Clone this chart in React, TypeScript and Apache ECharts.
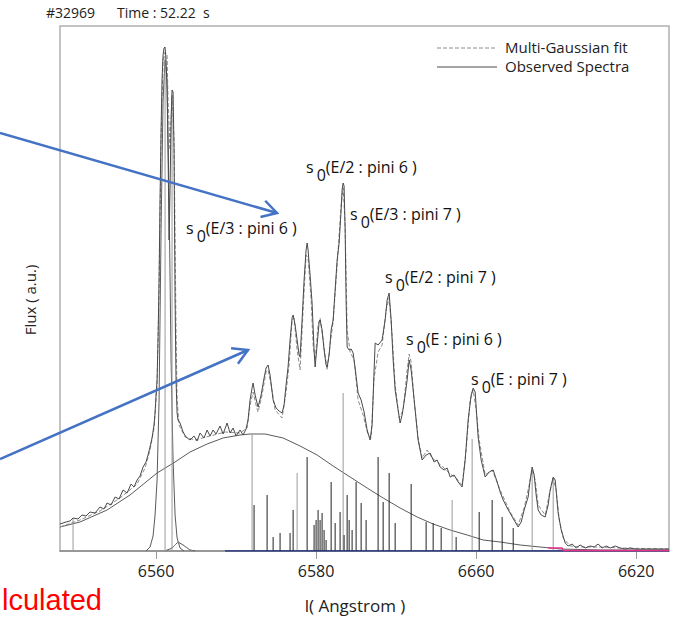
import React, { useEffect, useRef } from "react";
import * as echarts from "echarts";

// ---------- data ----------
const tickValues = [6560, 6580, 6600, 6620];
const tickLabels = ["6560", "6580", "6660", "6620"];

const titleShot = "#32969";
const titleTime = "Time : 52.22  s";
const xAxisName = "l( Angstrom )";
const yAxisName = "Flux ( a.u.)";
const legendFit = "Multi-Gaussian fit";
const legendObs = "Observed Spectra";
const redText = "lculated";

const peakLabelTexts = [
  "(E/2 : pini 6 )",
  "(E/3 : pini 7 )",
  "(E/3 : pini 6 )",
  "(E/2 : pini 7 )",
  "(E : pini 6 )",
  "(E : pini 7 )",
];

const observed: [number, number][] = [
  [6548.0, 0.27], [6548.75, 0.29], [6549.25, 0.3], [6549.63, 0.33], [6550.25, 0.32], [6550.75, 0.36],
  [6551.25, 0.35], [6551.75, 0.39], [6552.38, 0.38], [6553.0, 0.44], [6553.5, 0.42], [6553.88, 0.48],
  [6554.38, 0.46], [6554.88, 0.54], [6555.38, 0.52], [6555.88, 0.61], [6556.38, 0.58], [6556.88, 0.67],
  [6557.25, 0.64], [6557.63, 0.71], [6558.0, 0.75], [6558.38, 0.84], [6558.75, 0.89], [6559.0, 0.96],
  [6559.25, 1.04], [6559.5, 1.13], [6559.75, 1.26], [6559.88, 1.38], [6560.0, 1.56], [6560.13, 1.71],
  [6560.25, 2.11], [6560.38, 2.71], [6560.5, 3.51], [6560.63, 4.21], [6560.75, 4.71], [6560.88, 4.96],
  [6561.0, 5.03], [6561.13, 5.04], [6561.25, 4.91], [6561.38, 4.61], [6561.5, 4.01], [6561.63, 3.11],
  [6561.75, 3.61], [6561.88, 4.31], [6562.0, 4.61], [6562.13, 4.59], [6562.25, 4.01], [6562.38, 2.51],
  [6562.5, 1.71], [6562.63, 1.38], [6562.75, 1.31], [6563.0, 1.28], [6563.38, 1.19], [6563.75, 1.14],
  [6564.25, 1.11], [6564.75, 1.15], [6565.13, 1.1], [6565.5, 1.18], [6566.0, 1.13], [6566.38, 1.21],
  [6566.75, 1.15], [6567.13, 1.21], [6567.5, 1.17], [6568.0, 1.25], [6568.38, 1.17], [6568.88, 1.28],
  [6569.25, 1.18], [6569.63, 1.23], [6570.0, 1.15], [6570.5, 1.21], [6570.88, 1.16], [6571.25, 1.22],
  [6571.5, 1.31], [6571.75, 1.51], [6572.0, 1.63], [6572.13, 1.68], [6572.38, 1.56], [6572.75, 1.44],
  [6573.13, 1.56], [6573.5, 1.73], [6573.75, 1.83], [6574.0, 1.86], [6574.25, 1.76], [6574.63, 1.51],
  [6575.0, 1.43], [6575.38, 1.4], [6575.75, 1.38], [6576.0, 1.46], [6576.25, 1.66], [6576.5, 1.84],
  [6576.75, 2.11], [6577.0, 2.33], [6577.13, 2.36], [6577.38, 2.26], [6577.63, 2.11], [6577.88, 1.96],
  [6578.0, 1.94], [6578.25, 2.31], [6578.5, 2.71], [6578.75, 3.01], [6578.88, 3.08], [6579.0, 3.01],
  [6579.25, 2.76], [6579.5, 2.48], [6579.75, 2.01], [6579.88, 1.84], [6580.13, 2.06], [6580.38, 2.29],
  [6580.5, 2.31], [6580.75, 2.21], [6581.0, 2.01], [6581.25, 1.86], [6581.38, 1.84], [6581.63, 1.96],
  [6581.88, 2.21], [6582.13, 2.31], [6582.38, 2.61], [6582.63, 2.91], [6582.88, 3.08], [6583.13, 3.41],
  [6583.25, 3.61], [6583.38, 3.68], [6583.5, 3.65], [6583.63, 3.21], [6583.75, 2.51], [6583.88, 2.04],
  [6584.13, 2.01], [6584.38, 2.02], [6584.63, 1.98], [6584.88, 1.83], [6585.25, 1.58], [6585.63, 1.51],
  [6586.0, 1.39], [6586.38, 1.21], [6586.75, 1.11], [6587.0, 1.26], [6587.25, 1.81], [6587.38, 2.08],
  [6587.75, 2.06], [6588.25, 2.11], [6588.63, 2.31], [6588.88, 2.51], [6589.13, 2.58], [6589.38, 2.31],
  [6589.63, 1.91], [6589.88, 1.61], [6590.25, 1.41], [6590.5, 1.28], [6590.75, 1.36], [6591.13, 1.56],
  [6591.38, 1.71], [6591.63, 1.91], [6591.88, 1.81], [6592.13, 1.61], [6592.38, 1.41], [6592.75, 1.11],
  [6593.25, 0.91], [6593.75, 0.96], [6594.25, 0.98], [6594.75, 0.89], [6595.13, 0.91], [6595.5, 0.84],
  [6596.0, 0.81], [6596.38, 0.83], [6596.75, 0.74], [6597.25, 0.76], [6597.75, 0.69], [6598.25, 0.64],
  [6598.63, 0.91], [6599.0, 1.31], [6599.38, 1.56], [6599.63, 1.63], [6599.88, 1.59], [6600.25, 1.14],
  [6600.63, 0.91], [6601.13, 0.74], [6601.63, 0.79], [6602.13, 0.81], [6602.63, 0.69], [6603.0, 0.59],
  [6603.38, 0.51], [6603.88, 0.43], [6604.38, 0.36], [6604.88, 0.29], [6605.25, 0.24], [6605.63, 0.29],
  [6606.0, 0.41], [6606.5, 0.54], [6606.75, 0.71], [6607.0, 0.84], [6607.25, 0.76], [6607.5, 0.56],
  [6607.75, 0.41], [6608.13, 0.36], [6608.63, 0.34], [6609.0, 0.46], [6609.25, 0.61], [6609.63, 0.74],
  [6609.88, 0.71], [6610.25, 0.38], [6610.63, 0.21], [6611.13, 0.08], [6611.5, 0.05], [6612.0, 0.07],
  [6612.5, 0.03], [6613.0, 0.06], [6613.63, 0.03], [6614.25, 0.05], [6614.75, 0.04], [6615.25, 0.07],
  [6615.75, 0.03], [6616.25, 0.05], [6616.75, 0.03], [6617.38, 0.05], [6618.0, 0.03], [6618.63, 0.02],
  [6619.25, 0.03], [6619.88, 0.02], [6620.5, 0.02], [6621.75, 0.02], [6623.0, 0.02], [6624.1, 0.02],
];

const fit: [number, number][] = [
  [6548.0, 0.24], [6550.5, 0.31], [6553.0, 0.4], [6555.5, 0.53], [6557.63, 0.67], [6558.63, 0.83],
  [6559.25, 1.01], [6559.75, 1.23], [6560.13, 1.66], [6560.38, 2.61], [6560.63, 4.11], [6560.88, 4.91],
  [6561.13, 4.99], [6561.38, 4.96], [6561.5, 4.51], [6561.75, 4.01], [6562.0, 4.56], [6562.25, 4.11],
  [6562.5, 2.21], [6562.63, 1.51], [6562.88, 1.26], [6563.63, 1.14], [6564.88, 1.11], [6566.75, 1.15],
  [6568.63, 1.19], [6570.5, 1.18], [6571.38, 1.23], [6571.75, 1.46], [6572.13, 1.59], [6572.5, 1.46],
  [6572.75, 1.39], [6573.25, 1.56], [6573.75, 1.79], [6574.0, 1.81], [6574.38, 1.66], [6574.88, 1.41],
  [6575.75, 1.33], [6576.25, 1.59], [6576.63, 1.86], [6577.0, 2.31], [6577.25, 2.33], [6577.63, 2.01],
  [6578.0, 1.81], [6578.38, 2.41], [6578.75, 2.96], [6579.0, 2.93], [6579.38, 2.51], [6579.63, 2.06],
  [6579.88, 1.91], [6580.25, 2.26], [6580.5, 2.33], [6580.88, 2.11], [6581.38, 1.81], [6581.75, 2.06],
  [6582.13, 2.29], [6582.63, 2.86], [6583.13, 3.46], [6583.38, 3.63], [6583.63, 3.26], [6583.88, 2.21],
  [6584.25, 1.99], [6584.75, 1.91], [6585.25, 1.51], [6585.88, 1.36], [6586.5, 1.16], [6586.88, 1.13],
  [6587.25, 1.73], [6587.75, 1.99], [6588.25, 2.06], [6588.75, 2.41], [6589.13, 2.53], [6589.5, 2.16],
  [6589.88, 1.66], [6590.38, 1.33], [6590.88, 1.41], [6591.38, 1.81], [6591.63, 1.97], [6591.88, 1.89],
  [6592.25, 1.51], [6592.75, 1.13], [6593.25, 0.93], [6593.88, 1.01], [6594.5, 0.93], [6595.13, 0.89],
  [6596.0, 0.83], [6596.75, 0.77], [6597.5, 0.73], [6598.25, 0.66], [6598.75, 1.01], [6599.25, 1.51],
  [6599.63, 1.61], [6600.0, 1.41], [6600.38, 1.11], [6601.13, 0.76], [6602.0, 0.81], [6603.0, 0.61],
  [6604.25, 0.39], [6605.25, 0.26], [6606.0, 0.43], [6606.63, 0.66], [6607.0, 0.81], [6607.38, 0.71],
  [6607.75, 0.46], [6608.63, 0.36], [6609.13, 0.56], [6609.63, 0.73], [6610.0, 0.61], [6610.38, 0.31],
  [6610.88, 0.13], [6611.75, 0.05], [6613.0, 0.04], [6615.5, 0.04], [6618.0, 0.03], [6624.1, 0.02],
];

const broadGaussian: [number, number][] = [
  [6548.0, 0.24], [6550.5, 0.29], [6553.88, 0.41], [6556.75, 0.56], [6560.13, 0.78], [6562.38, 0.89],
  [6564.25, 0.99], [6566.38, 1.07], [6568.38, 1.13], [6570.5, 1.16], [6571.75, 1.17], [6573.63, 1.17],
  [6575.88, 1.13], [6578.0, 1.05], [6580.13, 0.96], [6582.13, 0.85], [6584.25, 0.74], [6586.38, 0.63],
  [6588.38, 0.53], [6590.5, 0.43], [6592.63, 0.34], [6594.63, 0.27], [6596.75, 0.21], [6598.88, 0.16],
  [6600.88, 0.11], [6603.0, 0.09], [6605.5, 0.06], [6608.0, 0.04], [6610.5, 0.02], [6615.5, 0.01],
  [6624.1, 0.01],
];

const halphaGaussian: [number, number][] = [
  [6558.75, 0.0], [6559.25, 0.04], [6559.63, 0.15], [6559.88, 0.36], [6560.13, 0.71], [6560.38, 1.51],
  [6560.63, 3.21], [6560.88, 4.51], [6561.13, 4.91], [6561.38, 4.71], [6561.63, 3.51], [6561.88, 1.91],
  [6562.13, 0.91], [6562.38, 0.36], [6562.63, 0.13], [6563.0, 0.03], [6563.5, 0.0],
];

const smallGaussian: [number, number][] = [
  [6561.13, 0.0], [6562.0, 0.03], [6562.75, 0.09], [6563.38, 0.06], [6564.25, 0.01], [6564.88, 0.0],
];

const graySticks: [number, number][] = [
  [6549.63, 0.33], [6561.13, 4.95], [6562.0, 4.55], [6572.0, 1.17], [6577.63, 0.78], [6583.38, 1.58],
  [6597.0, 0.51], [6599.5, 1.12], [6607.0, 0.81], [6609.63, 0.71],
];

const blackSticks: [number, number][] = [
  [6572.25, 0.46], [6573.88, 0.56], [6574.63, 0.14], [6575.5, 0.18], [6576.75, 0.18], [6577.13, 0.41],
  [6578.88, 0.94], [6579.75, 0.26], [6580.0, 0.31], [6580.25, 0.41], [6580.5, 0.31], [6580.75, 0.38],
  [6581.0, 0.21], [6581.25, 0.11], [6581.88, 0.69], [6582.38, 0.28], [6583.0, 0.39], [6583.5, 0.16],
  [6583.88, 0.56], [6584.13, 0.31], [6584.5, 0.21], [6585.0, 0.69], [6585.63, 0.48], [6586.25, 0.31],
  [6587.75, 0.94], [6588.38, 0.49], [6589.13, 0.78], [6589.88, 0.28], [6591.88, 0.67], [6593.75, 0.29],
  [6594.63, 0.28], [6595.63, 0.23], [6597.5, 0.14], [6600.38, 0.39], [6602.0, 0.51], [6603.25, 0.34],
  [6604.63, 0.23],
];

const blueBase: [number, number][] = [[6568.63, 0], [6624.1, 0]];
const pinkBase: [number, number][] = [[6609.0, 0.03], [6610.75, 0.03], [6610.9, 0.006], [6624.1, 0.006]];

// ---------- chart ----------
const FONT = "'Open Sans', 'DejaVu Sans', sans-serif";

function stickSeries(data: [number, number][], color: string, z: number) {
  return {
    type: "custom",
    data,
    silent: true,
    z,
    encode: { x: 0, y: 1 },
    renderItem: (_p: any, api: any) => {
      const x = api.value(0);
      const p0 = api.coord([x, 0]);
      const p1 = api.coord([x, api.value(1)]);
      return {
        type: "line",
        shape: { x1: p0[0], y1: p0[1], x2: p1[0], y2: p1[1] },
        style: { stroke: color, lineWidth: 1 },
      };
    },
  };
}

function lineSeries(data: [number, number][], color: string, width: number, dashed: any, z: number) {
  return {
    type: "line",
    data,
    symbol: "none",
    showSymbol: false,
    silent: true,
    z,
    lineStyle: { color, width, type: dashed },
  };
}

function peakLabel(x: number, y: number, text: string) {
  return {
    type: "text",
    x,
    y,
    style: {
      text: `{a|s}{b|0}{a|${text}}`,
      verticalAlign: "middle",
      rich: {
        a: { fontSize: 16, fontFamily: FONT, fill: "#111" },
        b: { fontSize: 16, fontFamily: FONT, fill: "#111", padding: [16, 0, 0, 3] },
      },
    },
  };
}

function arrow(x1: number, y1: number, x2: number, y2: number) {
  const dx = x2 - x1, dy = y2 - y1;
  const len = Math.hypot(dx, dy);
  const ux = -dx / len, uy = -dy / len;
  const L = 17, c = Math.cos(Math.PI / 6), s = Math.sin(Math.PI / 6);
  const a1 = [x2 + L * (ux * c - uy * s), y2 + L * (ux * s + uy * c)];
  const a2 = [x2 + L * (ux * c + uy * s), y2 + L * (-ux * s + uy * c)];
  const style = { stroke: "#4472c4", lineWidth: 2.5, fill: "none" };
  return [
    { type: "line", shape: { x1, y1, x2, y2 }, style, z: 100 },
    { type: "polyline", shape: { points: [a1, [x2, y2], a2] }, style, z: 100 },
  ];
}

const labelLayout = [
  [306, 167],
  [350, 214],
  [186, 228],
  [385, 277],
  [406, 339],
  [471, 379],
];

export default function App() {
  const ref = useRef<HTMLDivElement>(null);
  useEffect(() => {
    if (!ref.current) return;
    const chart = echarts.init(ref.current, undefined, { renderer: "svg" });
    chart.setOption({
      animation: false,
      backgroundColor: "#ffffff",
      grid: { left: 60, right: 4, top: 26, bottom: 66, show: true, borderColor: "#b0b0b0", borderWidth: 1.5 },
      xAxis: {
        type: "value",
        min: 6548,
        max: 6624.1,
        axisLine: { show: true, lineStyle: { color: "#8a8a8a", width: 1.5 } },
        axisTick: { show: true, customValues: tickValues, length: 8, lineStyle: { color: "#9a9a9a" } },
        axisLabel: {
          show: true,
          customValues: tickValues,
          formatter: (v: number) => tickLabels[tickValues.indexOf(v)] ?? "",
          fontSize: 16,
          color: "#222",
          fontFamily: FONT,
          margin: 12,
        },
        splitLine: { show: false },
      },
      yAxis: {
        type: "value",
        min: 0,
        max: 5.25,
        axisLine: { show: false },
        axisTick: { show: false },
        axisLabel: { show: false },
        splitLine: { show: false },
      },
      series: [
        lineSeries(broadGaussian, "#5a5a5a", 1, "solid", 2),
        lineSeries(halphaGaussian, "#5a5a5a", 1, "solid", 2),
        lineSeries(smallGaussian, "#5a5a5a", 1, "solid", 2),
        lineSeries(smallGaussian, "#8a8a8a", 1, [3, 2], 2),
        stickSeries(graySticks, "#9a9a9a", 3),
        stickSeries(blackSticks, "#222222", 3),
        lineSeries(blueBase, "#1f2f80", 1.5, "solid", 4),
        lineSeries(pinkBase, "#e8308a", 1.5, "solid", 5),
        lineSeries(fit, "#8c8c8c", 1, [4, 2], 6),
        lineSeries(observed, "#4a4a4a", 1, "solid", 7),
      ],
      graphic: [
        { type: "text", x: 46, y: 12, style: { text: titleShot, font: `14px ${FONT}`, fill: "#222", verticalAlign: "middle" } },
        { type: "text", x: 117, y: 12, style: { text: titleTime, font: `14px ${FONT}`, fill: "#222", verticalAlign: "middle" } },
        { type: "line", shape: { x1: 437, y1: 48, x2: 497, y2: 48 }, style: { stroke: "#8c8c8c", lineWidth: 1, lineDash: [4, 2] } },
        { type: "line", shape: { x1: 437, y1: 67, x2: 497, y2: 67 }, style: { stroke: "#4a4a4a", lineWidth: 1 } },
        { type: "text", x: 505, y: 47, style: { text: legendFit, font: `15px ${FONT}`, fill: "#222", verticalAlign: "middle", lineHeight: 16 } },
        { type: "text", x: 505, y: 66, style: { text: legendObs, font: `15px ${FONT}`, fill: "#222", verticalAlign: "middle", lineHeight: 16 } },
        { type: "text", x: 355, y: 605, style: { text: xAxisName, font: `17px ${FONT}`, fill: "#222", align: "center", verticalAlign: "middle" } },
        { type: "text", x: 30, y: 300, rotation: Math.PI / 2, style: { text: yAxisName, font: `15px ${FONT}`, fill: "#222", align: "center", verticalAlign: "middle" } },
        { type: "text", x: 2, y: 600, style: { text: redText, font: `29px 'Liberation Sans', Arial, sans-serif`, fill: "#ff0000", verticalAlign: "middle", lineHeight: 29 } },
        ...labelLayout.map((p, i) => peakLabel(p[0], p[1], peakLabelTexts[i])),
        ...arrow(0, 133, 277, 213),
        ...arrow(0, 459, 248, 350),
      ],
    });
    return () => chart.dispose();
  }, []);
  return <div ref={ref} style={{ position: "fixed", left: 0, top: 0, width: 673, height: 617 }} />;
}
